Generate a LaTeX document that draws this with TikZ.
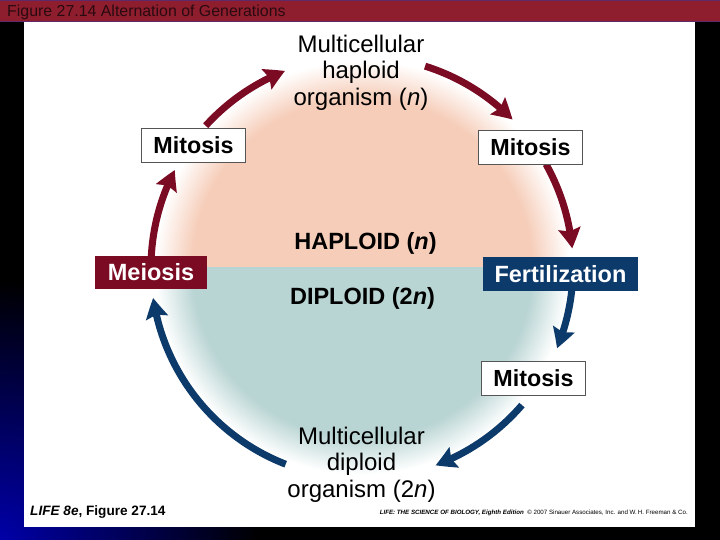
\documentclass[tikz,border=0pt]{standalone}
\usepackage{fontspec}
\setmainfont{Liberation Sans}
\usetikzlibrary{arrows.meta,bending,calc}
\definecolor{peachc}{HTML}{F6CDB9}
\definecolor{tealc}{HTML}{B8D4D3}
\definecolor{darkredc}{HTML}{7A0B22}
\definecolor{navyc}{HTML}{0C3A6B}
\definecolor{titlered}{HTML}{8E1E2E}
\definecolor{titleborder}{HTML}{5E2A6A}
\definecolor{titletext}{HTML}{2A0A10}
\definecolor{bgblue}{HTML}{0000A8}
\definecolor{boxborder}{HTML}{555555}
\pgfdeclareradialshading{peachfade}{\pgfpoint{0bp}{0bp}}{color(0bp)=(peachc); color(20.5bp)=(peachc); color(25bp)=(white); color(50bp)=(white)}
\pgfdeclareradialshading{tealfade}{\pgfpoint{0bp}{0bp}}{color(0bp)=(tealc); color(20.5bp)=(tealc); color(25bp)=(white); color(50bp)=(white)}
\pgfdeclareradialshading{bluecorner}{\pgfpoint{0bp}{0bp}}{color(0bp)=(bgblue); color(25bp)=(black); color(50bp)=(black)}
\begin{document}
\begin{tikzpicture}[x=1pt,y=1pt,
  mitbox/.style={draw=boxborder, fill=white, line width=0.8pt, minimum width=104pt, minimum height=34pt, inner sep=0pt, font=\fontsize{23.3}{23.3}\selectfont\bfseries},
  redbox/.style={fill=darkredc, text=white, minimum width=112pt, minimum height=33pt, inner sep=0pt, font=\fontsize{23.5}{23.5}\selectfont\bfseries},
  navybox/.style={fill=navyc, text=white, minimum width=155pt, minimum height=34pt, inner sep=0pt, font=\fontsize{23.5}{23.5}\selectfont\bfseries},
  orgtext/.style={align=center, inner sep=0pt, font=\fontsize{24}{26.5}\selectfont},
  phasetext/.style={anchor=base, inner sep=0pt, font=\fontsize{23.5}{23.5}\selectfont\bfseries},
  redarrow/.style={draw=darkredc, line width=7pt, -{Stealth[width=22pt,length=20pt,inset=3pt,bend]}},
  navyarrow/.style={draw=navyc, line width=7pt, -{Stealth[width=22pt,length=20pt,inset=3pt,bend]}}
]
\useasboundingbox (0,0) rectangle (720,540);
% background
\fill[black] (0,0) rectangle (720,540);
\begin{scope}
  \clip (0,0) rectangle (720,540);
  \shade[shading=bluecorner] (0,0) circle (260);
\end{scope}
\fill[white] (24,13) rectangle (695,518);
% title bar
\fill[titlered] (0,518) rectangle (720,540);
\draw[titleborder, line width=1.2pt] (0,518.6) -- (720,518.6);
\draw[titleborder, line width=0.8pt] (0,539.6) -- (720,539.6);
\node[anchor=base west, inner sep=0pt, text=titletext, font=\fontsize{15.9}{15.9}\selectfont] (title) at (7,523) {Figure 27.14 Alternation of Generations};
% circle halves
\coordinate (C) at (362,272.5);
\begin{scope}
  \clip ($(C)+(-225,0)$) rectangle ($(C)+(225,230)$);
  \shade[shading=peachfade] (C) circle (207);
\end{scope}
\begin{scope}
  \clip ($(C)+(-225,0)$) rectangle ($(C)+(225,-230)$);
  \shade[shading=tealfade] (C) circle (207);
\end{scope}
% texts
\node[orgtext] (haporg) at (361,467.3) {Multicellular\\haploid\\organism (\textit{n})};
\node[orgtext] (diporg) at (361.5,75.4) {Multicellular\\diploid\\organism (2\textit{n})};
\node[phasetext] (hap) at (365.5,290.7) {HAPLOID (\textit{n})};
\node[phasetext] (dip) at (362.5,235) {DIPLOID (2\textit{n})};
% arrow anchor points on the cycle
\coordinate (a1) at ($(C)+(177:211)$);
\coordinate (a2) at ($(C)+(137.8:211)$);
\coordinate (a3) at ($(C)+(72.6:211)$);
\coordinate (a4) at ($(C)+(29.3:211)$);
\coordinate (a5) at ($(C)+(-6.2:211)$);
\coordinate (a6) at ($(C)+(-40.7:211)$);
\coordinate (a7) at ($(C)+(-111.2:211)$);
\draw[redarrow] (a1) arc[start angle=177, end angle=152.5, radius=211];
\draw[redarrow] (a2) arc[start angle=137.8, end angle=111.4, radius=211];
\draw[redarrow] (a3) arc[start angle=72.6, end angle=44.5, radius=211];
\draw[redarrow] (a4) arc[start angle=29.3, end angle=5.2, radius=211];
\draw[navyarrow] (a5) arc[start angle=-6.2, end angle=-22.5, radius=211];
\draw[navyarrow] (a6) arc[start angle=-40.7, end angle=-69.6, radius=211];
\draw[navyarrow] (a7) arc[start angle=-111.2, end angle=-171.7, radius=211];
% boxes
\node[mitbox] (mit1) at (193.5,394.5) {Mitosis};
\node[mitbox] (mit2) at (530.5,392.5) {Mitosis};
\node[mitbox] (mit3) at (533.5,162) {Mitosis};
\node[redbox] (meio) at (151,267.5) {Meiosis};
\node[navybox] (fert) at (560.5,266) {Fertilization};
% footer
\node[anchor=base west, inner sep=0pt, font=\fontsize{13.6}{13.6}\selectfont\bfseries] (figlab) at (30,24) {\textit{LIFE 8e}, Figure 27.14};
\node[anchor=base east, inner sep=0pt] (credit) at (688,25.5) {\resizebox{308pt}{!}{\fontsize{5.5}{5.5}\selectfont\textbf{\textit{LIFE: THE SCIENCE OF BIOLOGY, Eighth Edition}}\ \ \textcopyright\ 2007 Sinauer Associates, Inc. and W.\,H. Freeman \& Co.}};
\end{tikzpicture}
\end{document}
